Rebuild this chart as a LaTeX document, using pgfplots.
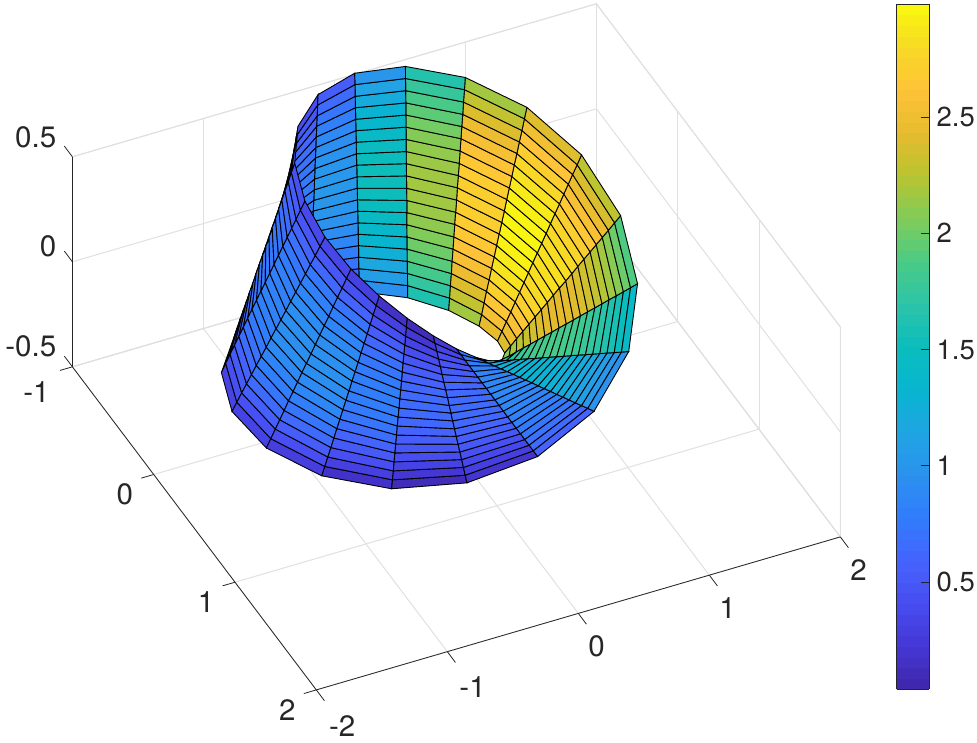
\documentclass[border=0pt]{standalone}
\usepackage{fontspec}
\setmainfont{TeX Gyre Heros}
\usepackage{pgfplots}
\pgfplotsset{compat=1.18}
\pgfplotsset{colormap={parulam}{
rgb=(.2422,.1504,.6603) rgb=(.2706,.2147,.8364) rgb=(.2813,.3006,.9414) rgb=(.2699,.3892,.9906)
rgb=(.1963,.4847,.9892) rgb=(.1687,.5703,.9359) rgb=(.1248,.6459,.8883) rgb=(.0297,.7082,.8163)
rgb=(.0433,.7394,.7394) rgb=(.1717,.7670,.6554) rgb=(.2906,.7973,.5188) rgb=(.5044,.7993,.3480)
rgb=(.7242,.7698,.1910) rgb=(.9035,.7330,.1774) rgb=(.9970,.7659,.2199) rgb=(.9704,.8522,.1473)
rgb=(.9763,.9831,.0538)}}
\definecolor{axc}{gray}{0.15}
\definecolor{grc}{gray}{0.88}
\begin{document}
\begin{tikzpicture}
\path[use as bounding box] (0pt,0pt) rectangle (977pt,742pt);
\begin{axis}[
 at={(415.7pt,449pt)},anchor=origin,
 x={(131pt,38.25pt)},y={(-81.3pt,107.7pt)},z={(0pt,210pt)},
 y dir=reverse,
 xmin=-2,xmax=2,ymin=-1,ymax=2,zmin=-.5,zmax=.5,
 xtick={-2,-1,0,1,2},xticklabels={{\hspace*{13pt}-2},{\hspace*{12pt}-1},0,1,2},
 ytick={-1,0,1,2},yticklabels={{-1\hspace*{6pt}},0,1,2},
 ztick={-.5,0,.5},zticklabels={-0.5,0,0.5},
 tick pos=left,
 grid=major,grid style={grc,line width=1pt},
 axis line style={draw=none},
 tick align=outside,major tick length=0pt,
 tick style={draw=none},
 tick label style={font=\fontsize{29.5}{31}\selectfont,text=axc,text height=20.5pt,text depth=0pt,inner sep=1pt},
 xticklabel style={xshift=14pt,yshift=-20pt},
 yticklabel style={xshift=-20pt,yshift=-8pt},
 zticklabel style={xshift=-15pt,yshift=12pt},
 clip=false,
 colormap name=parulam,
 point meta min=.04,point meta max=2.986,
]
\draw[grc,line width=1pt] (axis cs:-2,-1,.5)--(axis cs:2,-1,.5)--(axis cs:2,2,.5)--(axis cs:2,2,-.5)--(axis cs:2,-1,-.5)--(axis cs:-2,-1,-.5);
\draw[grc,line width=1pt] (axis cs:2,-1,-.5)--(axis cs:2,-1,.5);
\draw[axc,line width=.8pt] (axis cs:-2,-1,.5)--(axis cs:-2,-1,-.5)--(axis cs:-2,2,-.5)--(axis cs:2,2,-.5);
\draw[axc,line width=.8pt] (axis cs:-2,2,-.5)--(axis cs:-2,2.1,-.5) (axis cs:-1,2,-.5)--(axis cs:-1,2.1,-.5) (axis cs:0,2,-.5)--(axis cs:0,2.1,-.5) (axis cs:1,2,-.5)--(axis cs:1,2.1,-.5) (axis cs:2,2,-.5)--(axis cs:2,2.1,-.5);
\draw[axc,line width=.8pt] (axis cs:-2,-1,-.5)--(axis cs:-2.095,-1,-.5) (axis cs:-2,0,-.5)--(axis cs:-2.095,0,-.5) (axis cs:-2,1,-.5)--(axis cs:-2.095,1,-.5) (axis cs:-2,2,-.5)--(axis cs:-2.095,2,-.5);
\draw[axc,line width=.8pt] (axis cs:-2,-1,-.5)--(axis cs:-2,-1.1,-.5) (axis cs:-2,-1,0)--(axis cs:-2,-1.1,0) (axis cs:-2,-1,.5)--(axis cs:-2,-1.1,.5);
\addplot3[surf,shader=faceted,faceted color=black,line width=.9pt,z buffer=sort,mesh/rows=20,mesh/cols=20,yshift=-2pt,point meta=\thisrow{c}] table {
x y z c
0 .5 0 .50
0 .553 0 .55
0 .605 0 .58
0 .658 0 .62
0 .711 0 .65
0 .763 0 .67
0 .816 0 .68
0 .868 0 .70
0 .921 0 .70
0 .974 0 .70
0 1.026 0 .70
0 1.079 0 .69
0 1.132 0 .67
0 1.184 0 .65
0 1.237 0 .62
0 1.289 0 .59
0 1.342 0 .55
0 1.395 0 .51
0 1.447 0 .46
0 1.5 0 .40
.165 .479 -.082 .88
.181 .528 -.074 .92
.198 .578 -.065 .96
.215 .627 -.056 .99
.232 .676 -.048 1.01
.249 .725 -.039 1.03
.266 .774 -.030 1.05
.283 .823 -.022 1.05
.299 .872 -.013 1.06
.316 .921 -.004 1.05
.333 .970 .004 1.05
.350 1.019 .013 1.03
.367 1.069 .022 1.01
.384 1.118 .030 .99
.401 1.167 .039 .96
.417 1.216 .048 .92
.434 1.265 .056 .88
.451 1.314 .065 .83
.468 1.363 .074 .78
.485 1.412 .082 .72
.324 .416 -.162 1.35
.354 .455 -.145 1.40
.385 .495 -.128 1.44
.415 .534 -.111 1.48
.446 .573 -.094 1.51
.477 .612 -.077 1.53
.507 .652 -.060 1.55
.538 .691 -.043 1.56
.568 .730 -.026 1.56
.599 .769 -.009 1.55
.629 .809 .009 1.55
.660 .848 .026 1.53
.691 .887 .043 1.50
.721 .927 .060 1.47
.752 .966 .077 1.44
.782 1.005 .094 1.39
.813 1.044 .111 1.34
.843 1.084 .128 1.28
.874 1.123 .145 1.22
.905 1.162 .162 1.15
.469 .306 -.238 1.87
.508 .332 -.213 1.94
.547 .357 -.188 2.00
.585 .382 -.163 2.05
.624 .408 -.138 2.09
.663 .433 -.113 2.12
.702 .458 -.088 2.14
.740 .484 -.063 2.15
.779 .509 -.038 2.16
.818 .534 -.013 2.15
.857 .560 .013 2.14
.895 .585 .038 2.12
.934 .610 .063 2.09
.973 .636 .088 2.05
1.012 .661 .113 2.00
1.050 .686 .138 1.95
1.089 .712 .163 1.88
1.128 .737 .188 1.81
1.167 .762 .213 1.72
1.205 .787 .238 1.63
.587 .149 -.307 2.25
.627 .159 -.275 2.35
.667 .169 -.242 2.44
.708 .179 -.210 2.51
.748 .189 -.178 2.57
.788 .200 -.145 2.62
.829 .210 -.113 2.66
.869 .220 -.081 2.69
.909 .230 -.048 2.70
.949 .240 -.016 2.70
.990 .251 .016 2.69
1.030 .261 .048 2.67
1.070 .271 .081 2.64
1.110 .281 .113 2.59
1.151 .291 .145 2.53
1.191 .302 .178 2.46
1.231 .312 .210 2.38
1.271 .322 .242 2.28
1.312 .332 .275 2.17
1.352 .342 .307 2.05
.659 -.055 -.368 2.41
.695 -.058 -.329 2.53
.730 -.060 -.290 2.63
.766 -.063 -.252 2.72
.801 -.066 -.213 2.80
.837 -.069 -.174 2.86
.872 -.072 -.136 2.91
.908 -.075 -.097 2.95
.943 -.078 -.058 2.97
.979 -.081 -.019 2.98
1.014 -.084 .019 2.98
1.050 -.087 .058 2.96
1.085 -.090 .097 2.93
1.121 -.093 .136 2.89
1.157 -.096 .174 2.83
1.192 -.099 .213 2.76
1.228 -.102 .252 2.68
1.263 -.105 .290 2.58
1.299 -.107 .329 2.47
1.334 -.110 .368 2.35
.665 -.292 -.419 2.33
.692 -.303 -.375 2.45
.718 -.315 -.330 2.56
.744 -.327 -.286 2.65
.771 -.338 -.242 2.73
.797 -.350 -.198 2.80
.824 -.361 -.154 2.85
.850 -.373 -.110 2.89
.876 -.384 -.066 2.92
.903 -.396 -.022 2.93
.929 -.407 .022 2.93
.955 -.419 .066 2.92
.982 -.431 .110 2.89
1.008 -.442 .154 2.85
1.034 -.454 .198 2.80
1.061 -.465 .242 2.73
1.087 -.477 .286 2.65
1.114 -.488 .330 2.56
1.140 -.500 .375 2.45
1.166 -.511 .419 2.33
.588 -.541 -.458 1.90
.604 -.556 -.410 2.02
.619 -.570 -.361 2.13
.635 -.584 -.313 2.22
.650 -.599 -.265 2.30
.666 -.613 -.217 2.37
.681 -.627 -.169 2.42
.697 -.642 -.120 2.46
.712 -.656 -.072 2.49
.728 -.670 -.024 2.50
.743 -.685 .024 2.50
.759 -.699 .072 2.49
.775 -.713 .120 2.46
.790 -.727 .169 2.42
.806 -.742 .217 2.37
.821 -.756 .265 2.30
.837 -.770 .313 2.22
.852 -.785 .361 2.13
.868 -.799 .410 2.02
.883 -.813 .458 1.90
.418 -.772 -.485 1.22
.424 -.783 -.434 1.34
.430 -.794 -.383 1.45
.436 -.806 -.332 1.55
.442 -.817 -.281 1.63
.448 -.828 -.230 1.70
.454 -.840 -.179 1.76
.461 -.851 -.128 1.80
.467 -.862 -.077 1.83
.473 -.874 -.026 1.85
.479 -.885 .026 1.85
.485 -.897 .077 1.84
.491 -.908 .128 1.82
.497 -.919 .179 1.78
.504 -.931 .230 1.73
.510 -.942 .281 1.67
.516 -.953 .332 1.59
.522 -.965 .383 1.50
.528 -.976 .434 1.40
.534 -.987 .485 1.28
.158 -.946 -.498 .57
.159 -.950 -.446 .69
.159 -.954 -.393 .80
.160 -.959 -.341 .90
.161 -.963 -.288 .98
.161 -.967 -.236 1.05
.162 -.971 -.184 1.11
.163 -.976 -.131 1.15
.164 -.980 -.079 1.18
.164 -.984 -.026 1.20
.165 -.988 .026 1.20
.166 -.993 .079 1.19
.166 -.997 .131 1.17
.167 -1.001 .184 1.13
.168 -1.006 .236 1.08
.169 -1.010 .288 1.02
.169 -1.014 .341 .94
.170 -1.018 .393 .85
.171 -1.023 .446 .75
.171 -1.027 .498 .63
-.171 -1.027 -.498 .35
-.171 -1.023 -.446 .45
-.170 -1.018 -.393 .54
-.169 -1.014 -.341 .62
-.169 -1.010 -.288 .68
-.168 -1.006 -.236 .74
-.167 -1.001 -.184 .78
-.166 -.997 -.131 .82
-.166 -.993 -.079 .84
-.165 -.988 -.026 .85
-.164 -.984 .026 .85
-.164 -.980 .079 .84
-.163 -.976 .131 .82
-.162 -.971 .184 .78
-.161 -.967 .236 .74
-.161 -.963 .288 .68
-.160 -.959 .341 .62
-.159 -.954 .393 .54
-.159 -.950 .446 .45
-.158 -.946 .498 .35
-.534 -.987 -.485 .42
-.528 -.976 -.434 .48
-.522 -.965 -.383 .53
-.516 -.953 -.332 .58
-.510 -.942 -.281 .62
-.504 -.931 -.230 .65
-.497 -.919 -.179 .68
-.491 -.908 -.128 .70
-.485 -.897 -.077 .71
-.479 -.885 -.026 .72
-.473 -.874 .026 .72
-.467 -.862 .077 .71
-.461 -.851 .128 .70
-.454 -.840 .179 .68
-.448 -.828 .230 .65
-.442 -.817 .281 .62
-.436 -.806 .332 .58
-.430 -.794 .383 .53
-.424 -.783 .434 .48
-.418 -.772 .485 .42
-.883 -.813 -.458 .37
-.868 -.799 -.410 .44
-.852 -.785 -.361 .49
-.837 -.770 -.313 .55
-.821 -.756 -.265 .59
-.806 -.742 -.217 .63
-.790 -.727 -.169 .66
-.775 -.713 -.120 .69
-.759 -.699 -.072 .70
-.743 -.685 -.024 .72
-.728 -.670 .024 .72
-.712 -.656 .072 .72
-.697 -.642 .120 .72
-.681 -.627 .169 .70
-.666 -.613 .217 .67
-.650 -.599 .265 .65
-.635 -.584 .313 .61
-.619 -.570 .361 .57
-.604 -.556 .410 .52
-.588 -.541 .458 .47
-1.166 -.511 -.419 .30
-1.140 -.500 -.375 .39
-1.114 -.488 -.330 .47
-1.087 -.477 -.286 .54
-1.061 -.465 -.242 .60
-1.034 -.454 -.198 .65
-1.008 -.442 -.154 .70
-.982 -.431 -.110 .73
-.955 -.419 -.066 .76
-.929 -.407 -.022 .78
-.903 -.396 .022 .78
-.876 -.384 .066 .78
-.850 -.373 .110 .78
-.824 -.361 .154 .76
-.797 -.350 .198 .73
-.771 -.338 .242 .69
-.744 -.327 .286 .65
-.718 -.315 .330 .59
-.692 -.303 .375 .45
-.665 -.292 .419 .35
-1.334 -.110 -.368 .25
-1.299 -.107 -.329 .37
-1.263 -.105 -.290 .48
-1.228 -.102 -.252 .57
-1.192 -.099 -.213 .65
-1.157 -.096 -.174 .72
-1.121 -.093 -.136 .78
-1.085 -.090 -.097 .82
-1.050 -.087 -.058 .86
-1.014 -.084 -.019 .88
-.979 -.081 .019 .88
-.943 -.078 .058 .88
-.908 -.075 .097 .86
-.872 -.072 .136 .84
-.837 -.069 .174 .80
-.801 -.066 .213 .75
-.766 -.063 .252 .68
-.730 -.060 .290 .50
-.695 -.058 .329 .40
-.659 -.055 .368 .30
-1.352 .342 -.307 .27
-1.312 .332 -.275 .41
-1.271 .322 -.242 .53
-1.231 .312 -.210 .64
-1.191 .302 -.178 .74
-1.151 .291 -.145 .82
-1.110 .281 -.113 .88
-1.070 .271 -.081 .93
-1.030 .261 -.048 .97
-.990 .251 -.016 1.00
-.949 .240 .016 1.00
-.909 .230 .048 1.00
-.869 .220 .081 .98
-.829 .210 .113 .94
-.788 .200 .145 .89
-.748 .189 .178 .83
-.708 .179 .210 .75
-.667 .169 .242 .58
-.627 .159 .275 .45
-.587 .149 .307 .30
-1.205 .787 -.238 .16
-1.167 .762 -.213 .30
-1.128 .737 -.188 .43
-1.089 .712 -.163 .55
-1.050 .686 -.138 .64
-1.012 .661 -.113 .72
-.973 .636 -.088 .79
-.934 .610 -.063 .84
-.895 .585 -.038 .88
-.857 .560 -.013 .90
-.818 .534 .013 .90
-.779 .509 .038 .89
-.740 .484 .063 .86
-.702 .458 .088 .82
-.663 .433 .113 .76
-.624 .408 .138 .69
-.585 .382 .163 .60
-.547 .357 .188 .45
-.508 .332 .213 .30
-.469 .306 .238 .15
-.905 1.162 -.162 .05
-.874 1.123 -.145 .18
-.843 1.084 -.128 .30
-.813 1.044 -.111 .40
-.782 1.005 -.094 .48
-.752 .966 -.077 .55
-.721 .927 -.060 .61
-.691 .887 -.043 .66
-.660 .848 -.026 .68
-.629 .809 -.009 .70
-.599 .769 .009 .70
-.568 .730 .026 .68
-.538 .691 .043 .66
-.507 .652 .060 .61
-.477 .612 .077 .55
-.446 .573 .094 .48
-.415 .534 .111 .40
-.385 .495 .128 .30
-.354 .455 .145 .18
-.324 .416 .162 .05
-.485 1.412 -.082 .05
-.468 1.363 -.074 .16
-.451 1.314 -.065 .26
-.434 1.265 -.056 .34
-.417 1.216 -.048 .42
-.401 1.167 -.039 .48
-.384 1.118 -.030 .53
-.367 1.069 -.022 .56
-.350 1.019 -.013 .59
-.333 .970 -.004 .60
-.316 .921 .004 .60
-.299 .872 .013 .59
-.283 .823 .022 .56
-.266 .774 .030 .53
-.249 .725 .039 .48
-.232 .676 .048 .42
-.215 .627 .056 .34
-.198 .578 .065 .26
-.181 .528 .074 .16
-.165 .479 .082 .05
0 1.5 0 .25
0 1.447 0 .34
0 1.395 0 .41
0 1.342 0 .48
0 1.289 0 .54
0 1.237 0 .59
0 1.184 0 .63
0 1.132 0 .66
0 1.079 0 .68
0 1.026 0 .70
0 .974 0 .70
0 .921 0 .70
0 .868 0 .68
0 .816 0 .67
0 .763 0 .63
0 .711 0 .60
0 .658 0 .54
0 .605 0 .49
0 .553 0 .43
0 .5 0 .35
};
\end{axis}
\begin{axis}[
 at={(888pt,53pt)},anchor=south west,scale only axis,width=10pt,height=10pt,
 hide axis,xmin=0,xmax=1,ymin=0,ymax=1,
 colormap name=parulam,
 point meta min=.04,point meta max=2.986,
 colorbar sampled,
 colorbar style={
  samples=65,
  at={(parent axis.south west)},anchor=south west,scale only axis,width=32.5pt,height=685pt,
  ytick={.5,1,1.5,2,2.5},yticklabels={0.5,1,1.5,2,2.5},
  yticklabel pos=right,ytick pos=right,tick align=inside,major tick length=8pt,
  tick style={axc,line width=.8pt},
  axis line style={draw=axc,line width=.8pt},
  tick label style={font=\fontsize{27.5}{29}\selectfont,text=axc},
  yticklabel style={xshift=4pt},
 },
]
\addplot[draw=none] coordinates {(0,0)(1,1)};
\end{axis}
\end{tikzpicture}
\end{document}
